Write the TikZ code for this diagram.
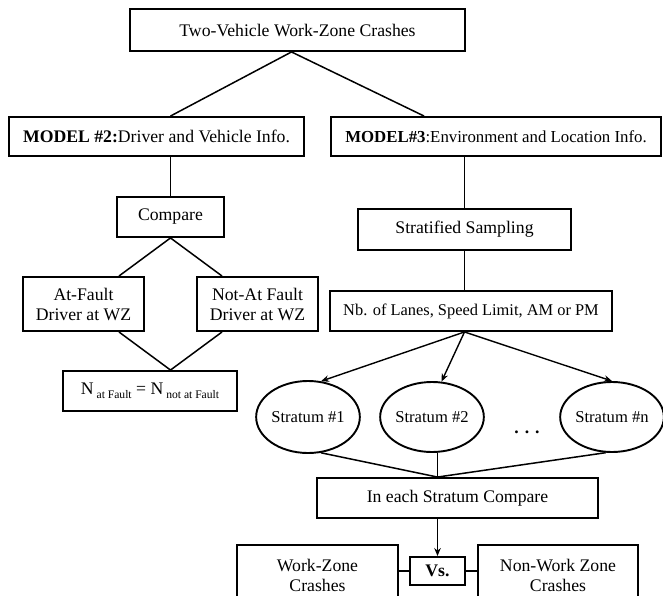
\documentclass[tikz,border=0pt]{standalone}
\usepackage{fontspec}
\setmainfont{Liberation Serif}
\usetikzlibrary{shapes.geometric,arrows.meta,calc}
\newcommand{\mysub}[1]{\raisebox{-0.45ex}{\fontsize{11.6}{13}\selectfont #1}}
\begin{document}
\begin{tikzpicture}[x=1pt,y=-1pt,
  box/.style={draw,line width=1.9pt,rectangle,inner sep=0pt,align=center,font=\fontsize{17.7}{20}\selectfont},
  oval/.style={draw,line width=1.9pt,ellipse,inner sep=0pt,minimum width=96pt,minimum height=70pt,font=\fontsize{16.6}{20}\selectfont},
  conn/.style={line width=1.5pt},
  arr/.style={line width=1.4pt,-{Stealth[length=8pt,width=6.5pt]}},
]
\clip (0,0) rectangle (663,596);
\fill[white] (0,0) rectangle (663,596);
% left / top boxes
\node[box,minimum width=335pt,minimum height=42pt] (top) at (297.5,30) {Two-Vehicle Work-Zone Crashes};
\node[box,minimum width=295pt,minimum height=39pt] (m2) at (156.5,136.5) {\textbf{MODEL \#2:}Driver and Vehicle Info.};
\node[box,minimum width=330pt,minimum height=39pt,font=\fontsize{16.8}{20}\selectfont] (m3) at (496,136.5) {\textbf{MODEL\#3}:Environment and Location Info.};
\node[box,minimum width=107pt,minimum height=40pt] (cmp) at (170.5,217) {Compare};
\node[box,minimum width=121pt,minimum height=54pt] (af) at (83.5,304) {At-Fault\\Driver at WZ};
\node[box,minimum width=121pt,minimum height=54pt] (naf) at (257.5,304) {Not-At Fault\\Driver at WZ};
\node[box,minimum width=174pt,minimum height=40pt] (neq) at (150,391) {N\,\mysub{at Fault} = N\,\mysub{not at Fault}};
% right column
\node[box,minimum width=213pt,minimum height=41pt] (strat) at (464.5,229.5) {Stratified Sampling};
\node[box,minimum width=282pt,minimum height=40pt,font=\fontsize{16.4}{20}\selectfont] (nb) at (471,311) {Nb. of Lanes, Speed Limit, AM or PM};
\node[oval,minimum width=90pt,minimum height=72pt] (s1) at (308,417) {Stratum \#1};
\node[oval] (s2) at (432,417) {Stratum \#2};
\node[oval] (sn) at (612,417) {Stratum \#n};
\node[font=\fontsize{17.7}{20}\selectfont\bfseries] (dots) at (527,432) {.\hspace{6pt}.\hspace{6pt}.};
\node[box,minimum width=281pt,minimum height=40pt] (ineach) at (457.5,498) {In each Stratum Compare};
\node[box,minimum width=55pt,minimum height=28pt,font=\fontsize{17.7}{20}\selectfont\bfseries] (vs) at (437.5,571) {Vs.};
\node[box,minimum width=161pt,minimum height=60pt] (wz) at (317.5,575) {Work-Zone\\Crashes};
\node[box,minimum width=160pt,minimum height=60pt] (nwz) at (558,575) {Non-Work Zone\\Crashes};
% connectors
\coordinate (join) at (ineach.north -| vs.north);
\draw[conn] (top.south) ++(-6,0) coordinate (topc) -- (m2.north -| cmp.north);
\draw[conn] (topc) -- ($(m3.north west)+(94,0)$);
\draw[conn] (cmp.north |- m2.south) -- (cmp.north);
\draw[conn] ($(af.north east)+(-26,0)$) -- (cmp.south) -- ($(naf.north west)+(26,0)$);
\draw[conn] ($(af.south east)+(-26,0)$) -- (neq.north -| cmp.south) -- ($(naf.south west)+(26,0)$);
\draw[conn] (strat.north |- m3.south) -- (strat.north);
\draw[conn] (strat.south) -- (strat.south |- nb.north);
\coordinate (nbs) at (nb.south -| strat.south);
\draw[arr] (nbs) -- (s1.70);
\draw[arr] (nbs) -- (s2.75);
\draw[arr] (nbs) -- (sn.north);
\draw[conn] (s1.-70) -- (join);
\draw[conn] (join |- s2.south) -- (join);
\draw[conn] (sn.-100) -- (join);
\draw[arr] (ineach.south -| vs.north) -- (vs.north);
\draw[conn] (wz.east |- vs.west) -- (vs.west);
\draw[conn] (vs.east) -- (vs.east -| nwz.west);
\end{tikzpicture}
\end{document}
